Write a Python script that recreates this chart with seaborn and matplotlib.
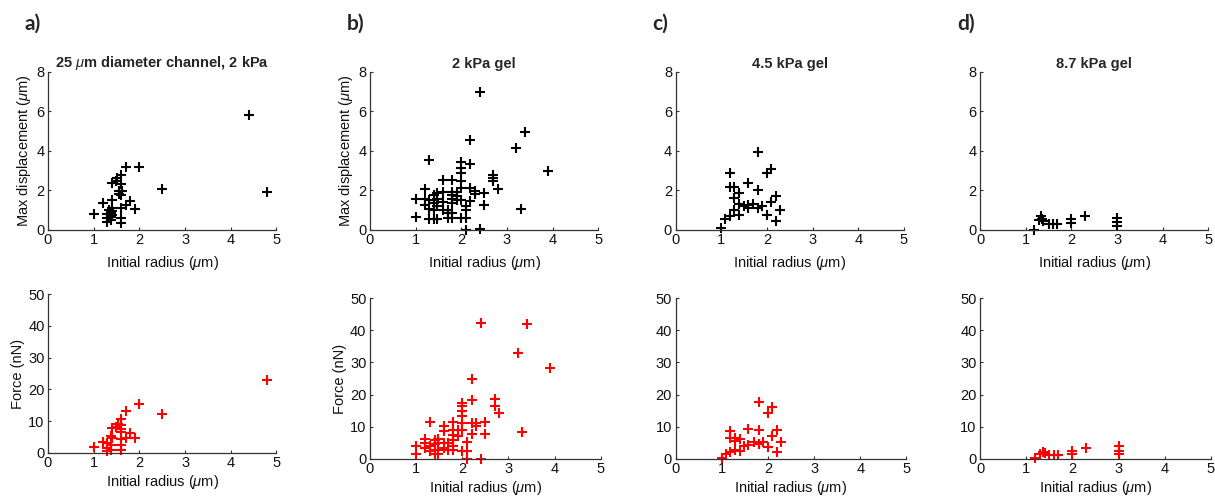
import matplotlib
matplotlib.use("Agg")
import matplotlib.pyplot as plt
import seaborn as sns

# Max displacement (um) vs initial radius (um), top row
a_disp_x = [1.0, 1.2, 1.3, 1.3, 1.3, 1.33, 1.37, 1.37, 1.37, 1.4, 1.4, 1.4, 1.4, 1.4,
            1.48, 1.5, 1.55, 1.55, 1.6, 1.6, 1.6, 1.6, 1.6, 1.6, 1.62, 1.7, 1.7, 1.8,
            1.9, 2.0, 2.5, 4.4, 4.8]
a_disp_y = [0.8, 1.35, 0.8, 0.6, 0.4, 1.0, 0.85, 0.65, 0.5, 1.5, 1.1, 2.35, 0.75, 0.95,
            2.45, 2.6, 1.95, 1.8, 2.75, 2.3, 1.75, 1.1, 0.6, 0.35, 1.95, 3.15, 1.25, 1.45,
            1.05, 3.15, 2.05, 5.8, 1.9]

b_disp_x = [1.0, 1.0, 1.2, 1.2, 1.2, 1.3, 1.3, 1.3, 1.3, 1.4, 1.4, 1.4, 1.4, 1.4,
            1.47, 1.47, 1.47, 1.47, 1.6, 1.6, 1.6, 1.6, 1.7, 1.7, 1.7,
            1.8, 1.8, 1.8, 1.8, 1.8, 1.8, 1.8, 1.9, 1.9, 1.9,
            2.0, 2.0, 2.0, 2.0, 2.0, 2.0, 2.0, 2.1, 2.1, 2.1, 2.1,
            2.2, 2.2, 2.2, 2.2, 2.3, 2.3, 2.4, 2.4, 2.5, 2.5, 2.7, 2.7, 2.7,
            2.8, 3.2, 3.3, 3.4, 3.9]
b_disp_y = [0.62, 1.55, 2.07, 1.57, 1.26, 3.54, 1.5, 1.05, 0.55, 1.77, 1.5, 1.35, 1.0, 0.55,
            1.85, 1.55, 1.2, 0.55, 2.5, 1.9, 1.4, 1.0, 1.0, 0.85, 0.6,
            2.5, 1.9, 1.75, 1.55, 1.35, 0.85, 0.6, 1.9, 1.7, 1.5,
            3.45, 3.1, 2.85, 2.45, 2.1, 1.5, 0.6, 1.2, 1.0, 0.6, 0.0,
            4.55, 3.33, 2.1, 1.43, 1.95, 1.8, 7.0, 0.03, 1.85, 1.26, 2.78, 2.6, 2.45,
            2.05, 4.12, 1.05, 4.93, 2.95]

c_disp_x = [1.0, 1.08, 1.19, 1.19, 1.19, 1.29, 1.29, 1.29, 1.39, 1.39, 1.39, 1.49,
            1.58, 1.58, 1.58, 1.7, 1.8, 1.8, 1.8, 1.9, 2.0, 2.0, 2.09, 2.09, 2.19, 2.19, 2.29]
c_disp_y = [0.07, 0.55, 0.67, 2.86, 2.14, 2.14, 1.6, 0.98, 1.85, 1.31, 0.76, 1.21,
            2.36, 1.09, 1.26, 1.31, 2.02, 3.92, 1.09, 1.18, 0.76, 2.86, 3.06, 1.38, 1.68, 0.45, 0.98]

d_disp_x = [1.19, 1.3, 1.33, 1.36, 1.38, 1.51, 1.6, 1.68, 2.0, 2.0, 2.3, 3.0, 3.0, 3.0]
d_disp_y = [0.0, 0.47, 0.67, 0.55, 0.43, 0.3, 0.3, 0.3, 0.55, 0.34, 0.67, 0.6, 0.4, 0.2]

# Force (nN) vs initial radius (um), bottom row
a_force_x = [1.0, 1.2, 1.29, 1.29, 1.29, 1.37, 1.37, 1.37, 1.4, 1.4, 1.48, 1.53,
             1.6, 1.6, 1.6, 1.6, 1.6, 1.6, 1.6, 1.7, 1.7, 1.8, 1.9, 2.0, 2.5, 4.8]
a_force_y = [1.8, 3.6, 3.1, 1.5, 0.7, 5.2, 2.5, 1.0, 4.8, 7.8, 8.3, 9.0,
             10.7, 8.8, 7.6, 6.7, 4.3, 2.6, 1.0, 13.2, 4.6, 6.2, 4.6, 15.3, 12.2, 22.8]

b_force_x = [1.0, 1.0, 1.2, 1.2, 1.2, 1.3, 1.3, 1.3, 1.4, 1.4, 1.4, 1.4,
             1.47, 1.47, 1.47, 1.47, 1.6, 1.6, 1.6, 1.6, 1.7, 1.7,
             1.8, 1.8, 1.8, 1.8, 1.8, 1.8, 1.9, 1.9,
             2.0, 2.0, 2.0, 2.0, 2.0, 2.0, 2.0, 2.1, 2.1, 2.1,
             2.2, 2.2, 2.2, 2.2, 2.3, 2.3, 2.4, 2.4, 2.5, 2.5, 2.7, 2.7,
             2.8, 3.2, 3.3, 3.4, 3.9]
b_force_y = [3.9, 1.6, 6.2, 5.0, 3.4, 11.4, 3.9, 2.4, 6.0, 4.8, 2.9, 1.7,
             6.2, 5.0, 2.9, 1.7, 10.3, 8.6, 5.0, 3.4, 5.0, 2.9,
             11.4, 9.1, 7.6, 6.0, 3.9, 2.9, 9.1, 7.0,
             17.4, 16.4, 14.8, 13.3, 11.2, 9.1, 2.4, 5.2, 2.4, 0.0,
             24.8, 18.4, 11.2, 7.9, 11.2, 10.1, 42.2, 0.0, 11.4, 7.8, 18.6, 16.6,
             14.3, 32.9, 8.4, 42.0, 28.4]

c_force_x = [1.0, 1.09, 1.19, 1.19, 1.19, 1.29, 1.29, 1.29, 1.39, 1.39, 1.49,
             1.58, 1.58, 1.7, 1.8, 1.8, 1.8, 1.9, 2.0, 2.0, 2.09, 2.09, 2.19, 2.19, 2.29]
c_force_y = [0.3, 1.6, 8.6, 6.5, 2.2, 6.5, 2.9, 5.5, 6.2, 2.4, 3.9,
             9.4, 4.5, 5.2, 17.7, 9.1, 4.7, 5.3, 14.3, 3.7, 16.0, 7.0, 9.1, 2.2, 5.3]

d_force_x = [1.19, 1.3, 1.36, 1.4, 1.5, 1.6, 1.68, 2.0, 2.0, 2.3, 3.0, 3.0, 3.0]
d_force_y = [0.3, 1.5, 2.3, 1.8, 1.3, 1.3, 1.3, 2.6, 1.4, 3.4, 3.9, 2.5, 1.4]

panel_letters = ["a)", "b)", "c)", "d)"]
titles = [r"25 $\mu$m diameter channel, 2 kPa", "2 kPa gel", "4.5 kPa gel", "8.7 kPa gel"]
x_ticks = [0, 1, 2, 3, 4, 5]
disp_ticks = [0, 2, 4, 6, 8]
force_ticks = [0, 10, 20, 30, 40, 50]

sns.set_theme(style="ticks")
plt.rcParams["font.family"] = ["Liberation Sans", "DejaVu Sans"]
plt.rcParams["mathtext.fontset"] = "custom"
plt.rcParams["mathtext.rm"] = "Liberation Sans"
plt.rcParams["mathtext.it"] = "Liberation Sans:italic"
plt.rcParams["mathtext.bf"] = "Liberation Sans:bold"

fig = plt.figure(figsize=(12.15, 5.0), dpi=100)

lefts = [0.0395, 0.3045, 0.556, 0.8066]
top_boxes = [(l, 0.541, 0.188, 0.315) for l in lefts]
bottom_boxes = [(lefts[0], 0.094, 0.188, 0.318)] + [(l, 0.082, 0.19, 0.322) for l in lefts[1:]]

disp_data = [(a_disp_x, a_disp_y), (b_disp_x, b_disp_y), (c_disp_x, c_disp_y), (d_disp_x, d_disp_y)]
force_data = [(a_force_x, a_force_y), (b_force_x, b_force_y), (c_force_x, c_force_y), (d_force_x, d_force_y)]

axis_col = "#333333"
fs = 10.5


def style_axis(ax, yticks, xpad):
    ax.set_xlim(0, 5)
    ax.set_ylim(yticks[0], yticks[-1])
    ax.set_xticks(x_ticks)
    ax.set_yticks(yticks)
    sns.despine(ax=ax)
    for s in ["left", "bottom"]:
        ax.spines[s].set_color(axis_col)
        ax.spines[s].set_linewidth(0.9)
    ax.tick_params(direction="in", length=2.5, width=0.8, color=axis_col,
                   labelsize=fs, labelcolor="#111111", pad=2.5)
    ax.set_xlabel(r"Initial radius ($\mu$m)", fontsize=fs, color="#111111", labelpad=xpad)


for i in range(4):
    ax = fig.add_axes(top_boxes[i])
    x, y = disp_data[i]
    sns.scatterplot(x=x, y=y, marker="+", color="black", s=48, linewidth=1.5,
                    clip_on=False, ax=ax)
    style_axis(ax, disp_ticks, 5)
    ax.set_title(titles[i], fontsize=10.5, fontweight="bold", pad=3)
    if i < 2:
        ax.set_ylabel(r"Max displacement ($\mu$m)", fontsize=fs, color="#111111", labelpad=2)
    fig.text(lefts[i] - 0.019, 0.953, panel_letters[i], fontsize=15,
             fontweight="bold", family="Lato", ha="left", va="center")

    ax2 = fig.add_axes(bottom_boxes[i])
    x, y = force_data[i]
    sns.scatterplot(x=x, y=y, marker="+", color="red", s=48, linewidth=1.5,
                    clip_on=False, ax=ax2)
    style_axis(ax2, force_ticks, 2)
    if i < 2:
        ax2.set_ylabel("Force (nN)", fontsize=fs, color="#111111", labelpad=2)

fig.savefig("out.png", dpi=100)
